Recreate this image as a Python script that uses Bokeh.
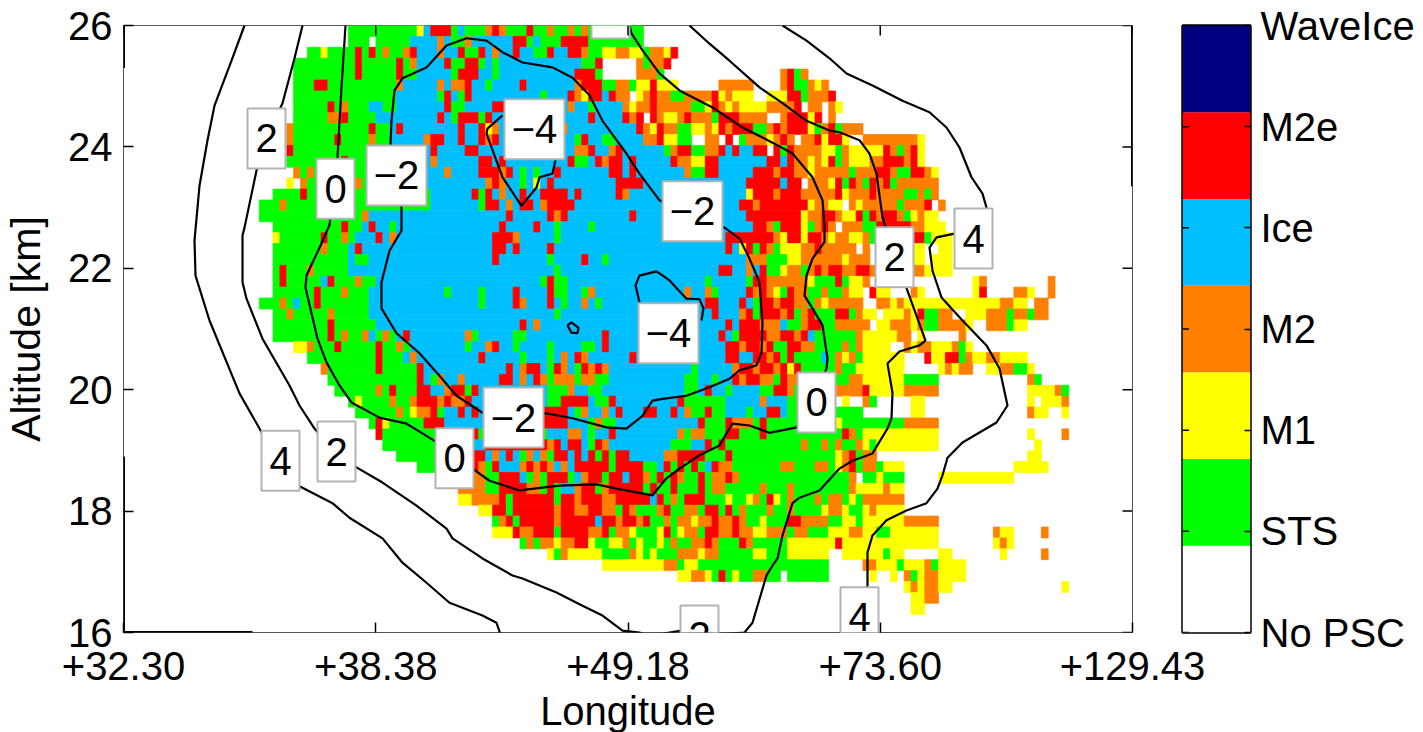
from bokeh.plotting import figure
from bokeh.layouts import row
from bokeh.models import Range1d, FixedTicker, LinearAxis, ColumnDataSource
from bokeh.core.properties import value
from bokeh.embed import file_html
from bokeh.resources import INLINE

FONT = "Liberation Sans"

# Classes (bottom to top of the colour bar)
CLASS_NAMES = ["No PSC", "STS", "M1", "M2", "Ice", "M2e", "WaveIce"]
CLASS_COLORS = ["#ffffff", "#00ff00", "#ffff00", "#ff8000", "#00bfff", "#ff0000", "#000080"]
CLASS_CODES = {"_": 0, "S": 1, "Y": 2, "O": 3, "I": 4, "R": 5, "W": 6}

LON_TICK_LABELS = ["+32.30", "+38.38", "+49.18", "+73.60", "+129.43"]
LON_TICK_POS = [0, 252.25, 504.5, 756.75, 1009]
ALT_TICKS = [16, 18, 20, 22, 24, 26]

# Cell grid: one string per altitude bin from the top; each token is class + first column
CELL_W = 6.86
CELL_X0 = -1.4
CELL_H = 0.1796
ROWS = [
"S33 Y43 I44 R45 S48 I49 S50 O53 R54 O55 S56 R59 S60 O62 S63 O65 S66 O67 S68 _76",
"S33 _36 S37 I42 O46 I47 S48 O50 I51 R57 S59 I60 S61 R64 S68 _76",
"S27 Y29 S30 R34 S35 R36 S37 O38 S39 O41 R42 I43 O46 I47 R49 S50 R52 I53 O54 I55 R57 I58 S60 R62 I63 R65 O67 S68 Y70 O72 Y74 S76 O77 Y79 R80 _81",
"S25 R34 S35 R40 S41 O42 I43 R47 S48 R50 S52 I53 S54 I55 S67 R69 _70 O75 S76 O77 R79 _80",
"S25 R34 S35 R40 S41 I43 S48 R49 I52 S54 I55 R66 S69 _70 O75 S78 _79 O96 R97 S98 O99 _100",
"S25 R28 S30 O40 I41 O46 I47 O48 R50 I51 S53 I54 R58 I59 O66 R67 S70 O72 S74 Y75 R77 Y78 _81 O87 _92 O96 R97 S98 O100 Y101 O102 _103",
"S25 I40 S46 R47 I48 S49 R50 I51 S61 I62 R65 O66 Y67 R68 I70 R71 O72 _74 Y75 O76 R77 O78 S80 O82 R86 Y87 O88 Y89 _92 Y94 R97 S99 O100 R103 _104",
"S25 R30 S31 O32 S33 I36 S38 I40 R47 S48 I50 R54 I56 O65 I66 S68 I69 O73 Y74 O75 R77 O78 S83 Y85 R86 O87 Y88 O89 Y90 O94 R98 _99 O100 _102 O103 Y104 _105",
"S25 O30 R32 S33 I37 R46 I47 S48 R49 S52 R53 I54 R68 I69 R73 O74 R75 _76 R77 O78 Y79 O81 R82 O83 S86 R87 O90 _94 O96 R97 Y100 R101 _102 O103 _104",
"O24 S25 R36 S37 I39 R40 I41 R49 I50 R52 Y53 O54 I55 O64 I65 R75 O76 Y77 R78 O79 S81 Y83 O85 Y86 R87 O88 R89 S92 O94 R95 O96 R97 Y100 S101 O102 R103 S104 O105 _108",
"O24 S25 R31 S32 O36 S37 I39 O44 R45 I47 R49 I50 R52 O53 R54 I55 S66 R67 I68 S70 I72 O76 R78 Y79 S81 _83 O85 _87 R88 _89 S90 O91 Y94 O95 R96 O97 _98 O99 R101 Y102 R103 Y105 _106 O108 Y116 _117",
"R24 S25 I39 R45 I46 R50 I52 O66 R68 I69 O71 R72 I73 S79 O80 R81 S83 O85 R87 I88 R89 I90 R92 _94 R95 S96 R97 O98 Y102 S104 O105 Y106 R111 O112 S113 O114 R115 Y116 _117",
"S24 R32 S33 I44 O45 I46 R52 I54 R55 I56 R65 S66 I68 R69 O70 R71 I73 R74 I75 R80 O81 Y83 R85 I87 R94 I96 R97 O98 Y100 O101 Y102 R103 S104 O105 Y106 O109 R111 O114 R115 Y116 _117",
"O25 S26 O27 S28 I44 O47 I48 R52 O55 R56 I57 S58 I59 S60 I61 R63 I64 R71 I73 R74 I75 O82 S83 R85 I87 R92 O95 R96 O98 Y100 O101 S106 O107 R110 O112 S113 R115 O117 Y118 _119",
"Y24 _25 O26 S27 O34 S35 I44 O53 R54 O55 I56 S58 I59 Y60 I61 R62 I63 R72 I76 R91 I96 R97 _99 O100 Y103 R104 S105 R106 O107 S108 R109 O110 R111 S112 O113 _119",
"S22 R26 S27 I45 R51 S52 R53 I54 O55 I56 R58 I59 R61 I65 R66 I67 R72 O73 I74 Y91 R92 O95 R96 O99 R104 Y105 O106 R109 O110 S114 O116 S117 O118 _119",
"S20 O23 S24 I45 S52 R53 I55 O56 I57 R58 I60 O61 R62 I66 R90 O92 R93 Y100 O101 Y103 _105 O106 Y107 O108 S113 O114 R117 _118 O119 _120",
"S20 O35 I36 R56 I57 R62 O63 R64 I65 R74 I75 R91 R92 Y99 O100 R102 O104 Y105 R107 S108 R109 O110 R111 O113 S114 Y115 O116 Y117 _119",
"S22 R32 S33 I35 R36 I37 S39 I40 R55 I56 R60 I61 S63 I64 S68 I69 R92 O94 S95 R96 Y99 S100 O101 R102 O103 _104 O105 S108 R110 O115 Y117 _120",
"Y22 S23 R29 S30 O32 S33 I34 R37 I38 O39 I40 R54 O57 I58 S63 I64 R88 O95 Y96 R97 Y99 R100 O102 Y103 O104 Y106 O108 S109 R115 S117 Y118 _121",
"S22 O29 S30 I33 R34 I35 R54 I56 R57 I58 R62 I63 R88 I89 Y90 R91 S92 R93 O94 S95 Y96 O99 R101 O102 _107 O108 _109 Y115 _117 Y119 _121",
"S22 I33 S34 I36 R54 I55 S62 I63 R67 I68 S70 I71 O91 S94 Y97 O99 O103 Y105 O106 _109 Y115 _117 Y118 _121",
"S22 R23 S24 O27 S28 I33 S63 I64 R87 I89 O91 I92 R93 S94 Y96 O97 S99 O100 R101 O102 R103 O105 R107 O109 O115 Y117 _121",
"S22 R23 S24 I29 R30 S31 O34 S35 I37 S61 R62 S63 I65 S85 I86 S91 R92 O94 O98 Y100 S101 R104 S105 Y106 O108 _109 Y124 O125 _126 O135 _136",
"S22 R28 S29 O32 S33 I36 S47 I48 S52 I53 R57 I58 R62 S63 I65 S67 O68 I69 O82 I83 O85 S86 I87 R91 O92 R93 O94 Y95 S96 R97 O98 S100 O102 S103 O105 Y106 _108 R109 Y110 _112 O115 Y116 _117 Y124 R125 _126 O130 Y132 _133 O135 _136",
"S20 O23 S24 I25 S26 R28 S29 I36 S52 I53 R57 O58 I59 R62 I63 S64 I65 O67 I68 S69 I70 R85 I87 R90 I91 S92 R93 O95 R96 O98 S100 O101 Y102 O103 _108 O110 Y112 O113 Y114 O128 Y130 _132 O133 _135",
"S22 O24 S25 O30 S31 I36 S63 I64 R86 I87 O90 R91 S92 R93 O96 R97 S98 O99 R100 S101 R104 S106 O107 Y108 _110 Y111 O114 Y115 R116 S117 O119 _121 Y123 O126 S129 O130 S132 O133 _135",
"S22 R30 S31 I37 R58 I59 O60 I61 R88 I89 R90 O93 I96 S97 O99 R100 S102 O104 _109 Y110 O112 Y115 O116 S117 O119 Y123 _124 O126 S129 Y130 _132",
"S22 R30 S31 O32 S33 O35 I36 S37 O38 S39 I40 R41 I42 O50 S51 I52 S57 I59 R70 I71 R87 I88 S89 R90 O94 R96 O98 R99 I100 S101 O107 Y108 O113 _115 Y116 _117 O122 _123",
"Y25 O27 S28 R31 S32 R37 S38 O40 S41 I42 S50 I51 O53 R54 I55 S57 I58 S62 I63 S67 I69 R70 I71 R88 O90 R91 O93 R94 S95 R97 O99 S101 O105 S106 O107 Y108 _112 O114 Y115 O116 Y118 O121 S122 Y123 _124",
"S27 R37 S38 I41 O42 I43 R52 I53 S58 I59 S62 I63 O64 I65 R66 O67 I68 R74 I75 R88 I90 R92 O94 R95 S96 R97 S98 I102 S103 O104 Y105 O106 S107 Y108 _114 R117 Y118 R120 S122 O123 Y124 O126 Y128 _132",
"O29 S30 R37 S38 R43 I44 R56 I57 O58 R59 I61 S62 R63 O64 I65 S66 R67 O68 R69 O70 I71 S83 I84 O89 R90 O92 R93 O95 R96 Y97 R98 S99 O104 S105 Y107 _114 Y119 O120 Y121 O122 _124 Y126 O128 S130 Y132 _133",
"S30 R43 I44 S45 O46 I47 O49 I50 R55 I57 O58 I59 R60 O61 S62 O63 S66 O67 S69 I71 S82 I84 S86 I87 R89 O90 R91 O93 S95 R96 O97 R99 S100 O102 S104 O106 Y108 S114 _119 O132 S133 _134",
"S31 O37 S38 R39 S40 R43 I45 O47 R48 S50 R51 I52 S62 I65 O65 I66 S68 I70 S82 I84 R85 I86 S88 I89 S93 R95 O97 S98 O104 R108 Y109 O114 _119 Y132 O136 S137 _138",
"S33 Y34 S35 O39 S40 O42 R43 O46 R47 O48 R50 I51 S62 R64 I68 S69 R71 I72 R81 S82 I88 O93 I94 S97 _104 Y105 _106 O108 S109 _110 Y115 _117 Y132 _133 Y134 O137 _138",
"S34 O40 S41 Y42 O43 R45 S46 I47 R49 I50 R51 I52 R61 I65 S66 O67 I68 O70 I71 R72 I73 R76 I78 R80 I81 O82 S83 R85 S86 I88 S91 I92 R94 I96 S97 _108 Y115 _117 O132 Y133 _135 Y137 _138",
"S36 R37 Y38 S39 R44 I47 R61 I65 S68 O69 S70 I72 R84 S85 R88 O89 S92 R93 S94 Y104 S105 O114 _119",
"R37 S38 R51 S52 I62 O65 I67 S68 I69 R71 I72 O81 S82 O83 S85 R88 S90 R93 S94 R105 O106 S107 Y108 _119 Y132 _133 O137 _138",
"S38 I51 R53 O62 R63 I64 R65 I67 S68 R69 O70 I71 S80 I83 R85 S86 R87 S88 O99 S100 O102 S103 O104 S105 O107 Y108 S109 Y110 _119 Y133 _134",
"S40 R51 I53 O54 I55 R56 I57 S58 O59 I60 O61 S62 R63 I65 R66 I67 R68 S69 R70 S71 R72 I74 O79 R81 S85 R88 S89 Y104 O105 R106 S107 O108 _110 Y132 _134",
"S43 R51 O52 S53 R54 I55 O58 R59 O60 R61 O62 I63 O64 I65 R66 S71 R72 S76 I78 R79 S80 R81 S82 R83 S84 I85 R86 O87 S89 O96 S98 O101 S103 Y104 O105 R106 S107 O108 S110 Y111 _114 Y130 _135",
"O51 S53 R55 I58 S59 O60 S61 R62 S65 I66 O67 R68 S70 R71 I73 R74 O76 S77 R78 S79 R80 O81 S82 R84 S85 O86 R88 O89 S90 O106 _107 S108 Y110 S111 _114 Y119 _130",
"O49 S53 R55 O59 S61 R62 S63 I64 O66 R67 S69 O70 R71 S76 R77 S78 R80 S81 R84 S85 O86 S88 O93 S94 O97 S98 O106 Y107 O111 Y112 _114",
"Y49 O51 R55 S56 R57 S63 R64 O66 R67 O70 R72 I77 R78 S79 O80 S81 R82 S85 Y88 S89 Y91 O92 S93 R94 Y95 S96 O97 S98 O101 S102 O103 S105 Y106 S107 O108 _114",
"Y52 R54 S56 R57 O63 R64 O66 R68 O70 S72 R73 O74 S75 O78 R79 S80 O82 S84 R85 S87 R88 S89 O90 S91 O94 S95 O97 S98 Y102 O103 Y105 S106 Y108 O109 Y110 _114",
"S54 O55 R56 S57 R58 O63 R64 I69 R70 O72 R73 O75 R76 S77 O79 S80 O81 Y83 O84 R86 O87 R89 O90 S91 Y93 S94 R97 O99 S103 Y105 S107 Y108 O114 _119",
"Y54 R57 O58 R60 S63 R64 O68 R70 S71 O72 Y74 S75 Y78 R79 S80 Y81 O82 S84 R85 O87 R89 O90 Y92 O94 S97 O98 S100 Y103 O106 Y108 S110 Y112 _119 O127 Y128 _130 O134 _135",
"S58 O59 S60 O61 Y63 O64 R66 Y68 S69 Y71 O73 S74 Y75 S76 Y78 S79 O80 S81 O83 R85 O86 S87 R90 O91 S92 Y97 R104 Y105 _119 Y127 O128 Y129 _130",
"Y62 S63 O64 Y65 S70 O74 Y75 S76 Y77 S78 O81 Y84 O85 S87 Y92 S94 Y97 _103 Y105 S111 Y112 _114 Y119 _121 Y128 _129 O134 _135",
"Y70 O79 S81 Y82 S84 _103 O108 Y110 S113 Y114 O117 S118 Y119 _123",
"Y81 O83 Y85 S86 R87 S88 Y89 S90 O92 S94 _96 S97 _103 Y109 _110 Y112 _113 O114 S115 Y116 O117 Y119 _123",
"Y114 O115 Y116 O117 Y119 _121 Y137 _138",
"Y115 O117 _119",
"Y115 _117",
]

# Temperature contours (position along the track, altitude in km)
C4W_X = [121,108,91,84,76,71,72,86,116,136,156,176,209,226,259,279,303,326,359,373,377]
C4W_Y = [26.00,25.42,24.68,24.11,23.36,22.46,21.88,21.14,19.94,19.36,18.75,18.41,18.13,17.89,17.55,17.15,16.82,16.49,16.28,16.16,15.97]
C2_X = [179,171,159,144,133,121,119,119,123,139,166,176,191,211,233,259,293,323,329,359,389,399,433,459,479,499,516,526,546,558,596,621,629,643,649,654,659,669,676,696,716,729,749,764,768,769,764,776,796,802,784,771,759,753,746,736,716,706,683,659,636,606,586,566]
C2_Y = [26.00,25.46,24.72,24.19,23.61,22.67,22.54,21.77,21.50,20.84,20.07,19.74,19.36,18.97,18.72,18.47,18.09,17.71,17.55,17.22,16.94,16.89,16.66,16.44,16.28,16.03,16.00,15.93,16.00,16.03,15.97,16.00,16.16,16.94,17.10,17.22,17.60,18.13,18.22,18.34,18.70,18.83,18.95,19.36,19.53,19.95,20.43,20.63,20.73,20.81,21.63,22.21,22.84,23.56,23.89,24.11,24.24,24.27,24.43,24.72,24.98,25.42,25.70,26.00]
C4E_X = [659,683,706,723,749,779,806,823,836,848,859,863,851,831,813,806,809,818,839,863,876,884,873,839,824,819,814,803,783,763,749,744,744,738]
C4E_Y = [26.00,25.75,25.46,25.21,25.01,24.76,24.57,24.32,23.99,23.50,23.23,23.00,22.71,22.57,22.51,22.34,21.96,21.52,21.14,20.73,20.35,19.74,19.46,19.13,18.88,18.59,18.37,18.13,18.01,17.85,17.60,17.32,16.78,15.97]
C0_X = [222,218,214,209,206,198,183,182,194,203,216,228,256,283,299,326,349,366,396,436,473,493,529,543,556,576,596,603,609,626,646,673,691,703,704,699,689,681,683,689,701,701,699,689,669,649,619,589,556,536,519,508,506]
C0_Y = [26.00,24.98,23.83,23.12,22.71,22.41,21.88,21.68,20.84,20.45,20.07,19.79,19.54,19.44,19.28,19.00,18.70,18.50,18.34,18.42,18.44,18.37,18.26,18.54,18.70,18.92,19.08,19.28,19.44,19.41,19.29,19.38,19.82,20.35,20.51,21.06,21.34,21.55,21.88,22.16,22.43,22.71,23.12,23.50,23.89,24.07,24.32,24.65,24.93,25.21,25.59,25.87,26.00]
CM2_X = [267,268,271,279,303,323,343,363,379,399,429,449,466,479,503,516,536,566,601,616,626,636,639,638,633,616,606,586,563,539,529,519,503,483,449,423,359,333,316,296,273,258,258,266,278,278,267]
CM2_Y = [24.06,24.43,24.93,25.13,25.31,25.67,25.79,25.75,25.56,25.39,25.31,25.14,24.85,24.43,23.89,23.56,23.12,22.87,22.67,22.49,22.16,21.77,21.11,20.61,20.40,20.32,20.18,20.04,19.90,19.85,19.82,19.57,19.36,19.38,19.53,19.61,19.62,19.90,20.23,20.60,20.93,21.34,21.77,22.29,22.62,22.99,24.06]
CM4A_X = [379,364,363,379,398,413,416,429,432]
CM4A_Y = [24.52,24.30,24.22,23.50,23.03,23.33,23.50,23.56,23.78]
CM4B_X = [516,512,516,533,546,563,576,580,578]
CM4B_Y = [21.44,21.72,21.88,21.95,21.80,21.50,21.49,21.34,21.14]
CM4C_X = [444,448,455,454,448,444]
CM4C_Y = [21.06,21.11,21.02,20.93,20.94,21.06]
CONTOURS_X = [C4W_X, C2_X, C4E_X, C0_X, CM2_X, CM4A_X, CM4B_X, CM4C_X]
CONTOURS_Y = [C4W_Y, C2_Y, C4E_Y, C0_Y, CM2_Y, CM4A_Y, CM4B_Y, CM4C_Y]

# Contour labels (the one above the top edge shows only its box)
LABEL_TEXT = ["2", "0", "\u22122", "\u22124", "\u22122", "2", "4", "\u22124", "\u22122", "0", "0", "2", "4", "2", "4"]
LABEL_X = [143, 212, 273, 411, 569, 771, 850, 545, 390, 693, 331, 213, 157, 576, 736]
LABEL_Y = [24.14, 23.31, 23.53, 24.29, 22.94, 22.18, 22.49, 20.93, 19.54, 19.79, 18.87, 18.98, 18.83, 15.95, 16.25]
OFFSCALE_BOX_X = [487]
OFFSCALE_BOX_Y = [26.28]


def parse_rows(rows):
    left, right, top, bottom, color = [], [], [], [], []
    for r, line in enumerate(rows):
        starts = [(t[0], int(t[1:])) for t in line.split()]
        for (kind, c0), (_, c1) in zip(starts, starts[1:]):
            if kind == "_" or c1 <= c0:
                continue
            left.append(CELL_X0 + CELL_W * c0)
            right.append(CELL_X0 + CELL_W * c1)
            top.append(26 - CELL_H * r)
            bottom.append(26 - CELL_H * (r + 1))
            color.append(CLASS_COLORS[CLASS_CODES[kind]])
    return dict(left=left, right=right, top=top, bottom=bottom, color=color)


TICK_KM = 10 / 60.7   # 10 px inner tick along altitude
p = figure(frame_width=1009, frame_height=607, width=1215, height=730,
           x_range=Range1d(0, 1009), y_range=Range1d(16, 26),
           output_backend="svg", toolbar_location=None,
           min_border_left=123, min_border_top=25, min_border_bottom=98, min_border_right=82,
           x_axis_label="Longitude", y_axis_label="Altitude [km]")
p.grid.visible = False
p.outline_line_color = "#555555"
p.outline_line_width = 1
p.border_fill_color = None

src = ColumnDataSource(parse_rows(ROWS))
p.quad(left="left", right="right", top="top", bottom="bottom", fill_color="color",
       line_color="color", line_width=0.7, source=src)

for xs, ys in zip(CONTOURS_X, CONTOURS_Y):
    p.line(xs, ys, line_color="black", line_width=2.2)

box_x = LABEL_X + OFFSCALE_BOX_X
box_y = LABEL_Y + OFFSCALE_BOX_Y
box_w = [60 if len(t) > 1 else 38 for t in LABEL_TEXT] + [38]
p.rect(box_x, box_y, width=box_w, height=60, width_units="screen", height_units="screen",
       fill_color="white", line_color="#b3b3b3", line_width=2)
p.text(LABEL_X, LABEL_Y, text=LABEL_TEXT, text_font=value(FONT), text_font_size="40px",
       text_align="center", text_baseline="middle", text_color="black")

# inner ticks on the top and right edges, heavier stretches of the frame
p.segment(x0=LON_TICK_POS, x1=LON_TICK_POS, y0=[26] * 5, y1=[26 - TICK_KM] * 5,
          line_color="black", line_width=1.5)
p.segment(x0=[1009] * 6, x1=[999] * 6, y0=ALT_TICKS, y1=ALT_TICKS,
          line_color="black", line_width=1.5)
p.segment(x0=[0, 0, 0, 1009], x1=[0, 0, 129, 1009], y0=[26, 18.9, 16, 26], y1=[25.3, 16, 16, 23.35],
          line_color="black", line_width=3)

x_axis = p.xaxis[0]
x_axis.ticker = FixedTicker(ticks=LON_TICK_POS)
x_axis.major_label_overrides = {float(a): b for a, b in zip(LON_TICK_POS, LON_TICK_LABELS)}
y_axis = p.yaxis[0]
y_axis.ticker = FixedTicker(ticks=ALT_TICKS)
for ax in (x_axis, y_axis):
    ax.major_tick_in = 10
    ax.major_tick_out = 0
    ax.minor_tick_line_color = None
    ax.major_tick_line_color = "black"
    ax.major_tick_line_width = 1.5
    ax.axis_line_color = None
    ax.major_label_text_font = FONT
    ax.major_label_text_font_size = "40px"
    ax.major_label_text_color = "black"
    ax.axis_label_text_font = FONT
    ax.axis_label_text_font_size = "40px"
    ax.axis_label_text_font_style = "normal"
    ax.axis_label_text_color = "black"
x_axis.major_label_standoff = 19
x_axis.axis_label_standoff = 6
y_axis.major_label_standoff = 11
y_axis.axis_label_standoff = 16
y_axis.axis_label_text_font_size = "41px"

# Colour bar: seven classes over the tick range 0-6
n = len(CLASS_NAMES)
p2 = figure(frame_width=68, frame_height=607, width=273, height=730,
            x_range=Range1d(0, 1), y_range=Range1d(0, n - 1),
            output_backend="svg", toolbar_location=None, x_axis_location=None,
            y_axis_location="right",
            min_border_left=33, min_border_top=25, min_border_bottom=98, min_border_right=172)
p2.grid.visible = False
p2.border_fill_color = None
p2.background_fill_color = None
p2.outline_line_color = "black"
p2.outline_line_width = 2.5
step = (n - 1) / n
p2.quad(left=[0] * n, right=[1] * n, bottom=[i * step for i in range(n)],
        top=[(i + 1) * step for i in range(n)], fill_color=CLASS_COLORS, line_color=None)
ticks = list(range(n))
p2.segment(x0=[0] * n, x1=[0.095] * n, y0=ticks, y1=ticks, line_color="black", line_width=1.5)
ya = p2.yaxis[0]
ya.ticker = FixedTicker(ticks=ticks)
ya.major_label_overrides = {i: name for i, name in enumerate(CLASS_NAMES)}
ya.major_tick_in = 6
ya.major_tick_out = 0
ya.minor_tick_line_color = None
ya.major_tick_line_color = "black"
ya.major_tick_line_width = 1.5
ya.axis_line_color = None
ya.major_label_text_font = FONT
ya.major_label_text_font_size = "40px"
ya.major_label_text_color = "black"
ya.major_label_standoff = 10

# the colour bar's figure overlaps the free right part of the main figure
p2.margin = (0, 0, 0, -65)
page = row(p, p2, spacing=0)

open("out.html", "w").write(file_html(page, INLINE))
